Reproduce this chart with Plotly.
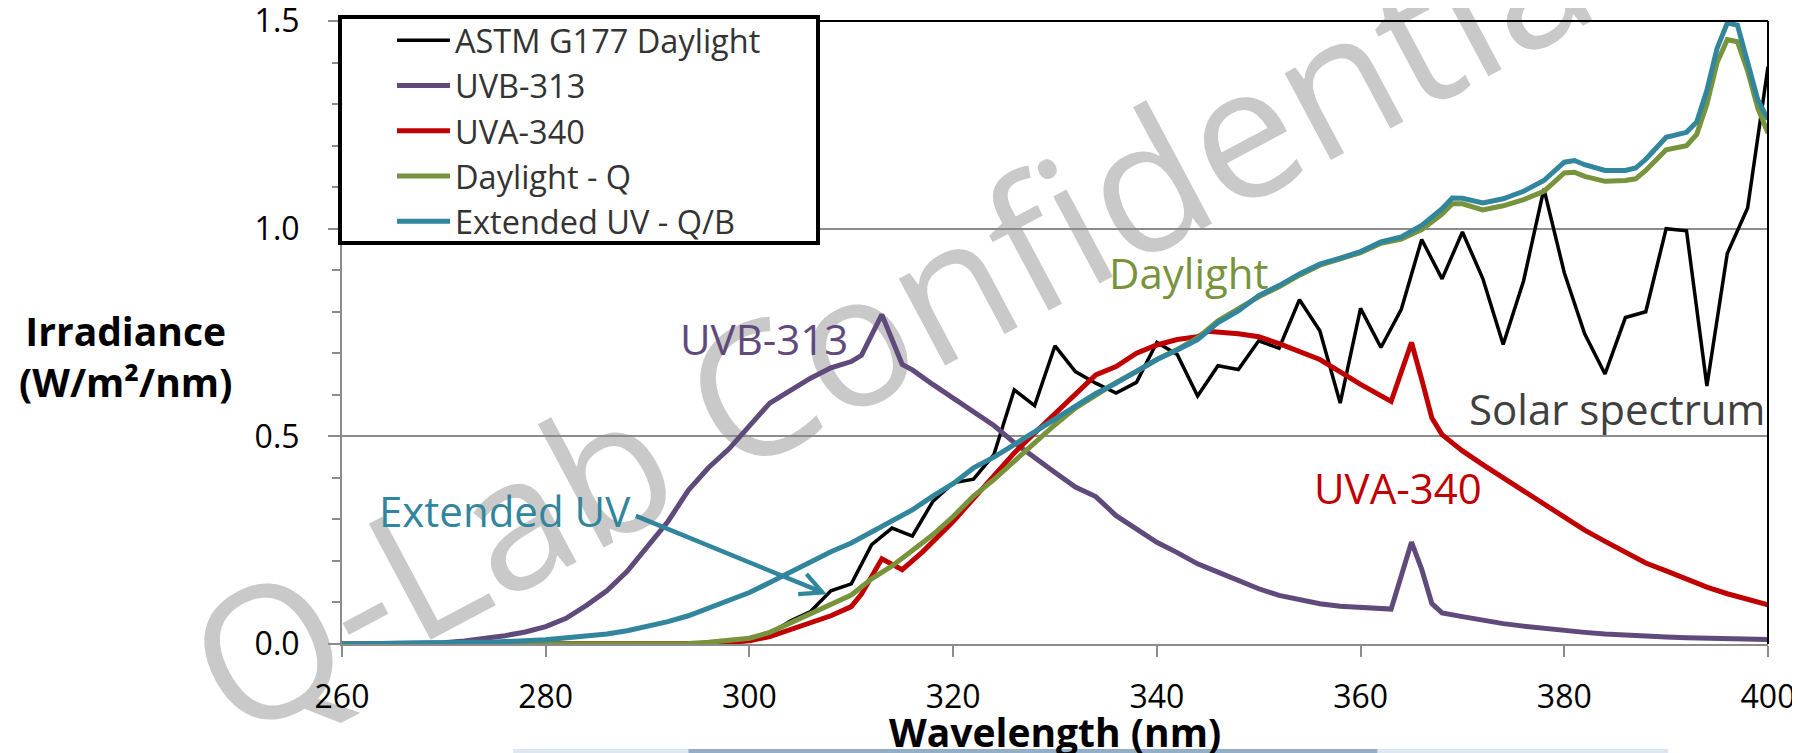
import plotly.graph_objects as go

FONT = "Open Sans, sans-serif"

# ---------------- data ----------------
wl_astm = list(range(280, 402, 2))
astm_g177 = [0, 0, 0, 0, 0, 0, 0, 0, 0, 0.002,
             0.008, 0.025, 0.055, 0.078, 0.128, 0.145, 0.239, 0.279, 0.260, 0.343,
             0.388, 0.397, 0.456, 0.612, 0.574, 0.718, 0.656, 0.628, 0.604, 0.630,
             0.726, 0.697, 0.597, 0.670, 0.661, 0.730, 0.712, 0.829, 0.754, 0.580,
             0.808, 0.714, 0.806, 0.974, 0.879, 0.992, 0.880, 0.721, 0.874, 1.096,
             0.894, 0.747, 0.650, 0.786, 0.800, 1.000, 0.995, 0.621, 0.940, 1.050,
             1.390]

wl_uvb = [260, 262, 264, 266, 268, 270, 272, 274, 276, 278, 280, 282, 284, 286, 288,
          290, 292, 294, 296, 298, 300, 302, 304, 306, 308, 310, 311, 313, 315, 316,
          318, 320, 322, 324, 326, 328, 330, 332, 334, 336, 338, 340, 342, 344, 346,
          348, 350, 352, 354, 356, 358, 360, 363, 365, 366, 367, 368, 370, 372, 374,
          376, 378, 380, 382, 384, 386, 388, 390, 392, 394, 396, 398, 400]
uvb_313 = [0, 0, 0, 0, 0.001, 0.003, 0.007, 0.013, 0.020, 0.029, 0.042, 0.062, 0.093, 0.128, 0.175,
           0.235, 0.295, 0.370, 0.425, 0.470, 0.525, 0.580, 0.610, 0.640, 0.665, 0.680, 0.695, 0.793, 0.673, 0.660,
           0.625, 0.592, 0.560, 0.526, 0.485, 0.448, 0.413, 0.378, 0.355, 0.309, 0.277, 0.245, 0.220, 0.193, 0.173,
           0.152, 0.133, 0.117, 0.106, 0.097, 0.091, 0.088, 0.084, 0.245, 0.180, 0.097, 0.075, 0.066, 0.056, 0.049,
           0.043, 0.037, 0.032, 0.028, 0.024, 0.021, 0.018, 0.017, 0.015, 0.014, 0.013, 0.012, 0.011]

wl_uva = [260, 280, 292, 294, 296, 298, 300, 302, 304, 306, 308, 310, 311, 313, 315,
          317, 318, 320, 322, 324, 326, 328, 330, 332, 334, 336, 338, 340, 342, 344,
          345, 348, 350, 352, 354, 356, 358, 360, 363, 365, 366, 367, 368, 370, 372,
          374, 376, 378, 380, 382, 384, 386, 388, 390, 392, 394, 396, 398, 400]
uva_340 = [0, 0, 0, 0.001, 0.002, 0.004, 0.008, 0.018, 0.035, 0.052, 0.068, 0.090, 0.120, 0.205, 0.179,
           0.222, 0.245, 0.295, 0.350, 0.404, 0.460, 0.508, 0.556, 0.604, 0.648, 0.668, 0.700, 0.720, 0.733, 0.740,
           0.753, 0.747, 0.740, 0.723, 0.705, 0.685, 0.655, 0.625, 0.584, 0.726, 0.637, 0.544, 0.504, 0.465, 0.432,
           0.400, 0.368, 0.335, 0.303, 0.274, 0.247, 0.220, 0.195, 0.176, 0.155, 0.137, 0.121, 0.108, 0.094]

wl_day = [260, 280, 290, 294, 296, 298, 300, 302, 304, 306, 308, 310, 312, 314, 316,
          318, 320, 322, 324, 326, 328, 330, 332, 334, 336, 338, 340, 342, 344, 346,
          348, 350, 352, 354, 356, 358, 360, 362, 364, 366, 368, 369, 370, 372, 374,
          376, 378, 380, 381, 382, 384, 386, 387, 388, 390, 392, 393, 394, 395, 396,
          397, 398, 399, 400]
daylight_q = [0, 0, 0, 0.001, 0.004, 0.008, 0.014, 0.028, 0.050, 0.074, 0.097, 0.118, 0.157, 0.188, 0.225,
              0.263, 0.307, 0.356, 0.396, 0.440, 0.484, 0.528, 0.568, 0.600, 0.630, 0.656, 0.685, 0.709, 0.737, 0.778,
              0.806, 0.836, 0.860, 0.888, 0.912, 0.926, 0.942, 0.965, 0.975, 0.998, 1.035, 1.060, 1.060, 1.045, 1.055,
              1.070, 1.090, 1.134, 1.136, 1.126, 1.114, 1.116, 1.120, 1.140, 1.190, 1.200, 1.227, 1.300, 1.400, 1.455,
              1.450, 1.380, 1.290, 1.230]

wl_ext = [260, 265, 270, 275, 280, 282, 284, 286, 288, 290, 292, 294, 296, 298, 300,
          302, 304, 306, 308, 310, 312, 314, 316, 318, 320, 322, 324, 326, 328, 330,
          332, 334, 336, 338, 340, 342, 344, 346, 348, 350, 352, 354, 356, 358, 360,
          362, 364, 366, 368, 369, 370, 372, 374, 376, 378, 380, 381, 382, 384, 386,
          387, 388, 390, 392, 393, 394, 395, 396, 397, 398, 399, 400]
extended_uv = [0, 0.001, 0.002, 0.005, 0.010, 0.014, 0.018, 0.024, 0.032, 0.042, 0.054, 0.068, 0.086, 0.104, 0.124,
               0.148, 0.173, 0.198, 0.222, 0.243, 0.270, 0.295, 0.323, 0.356, 0.386, 0.424, 0.450, 0.480, 0.510, 0.540,
               0.572, 0.603, 0.628, 0.656, 0.685, 0.708, 0.733, 0.774, 0.802, 0.839, 0.863, 0.891, 0.915, 0.929, 0.945,
               0.968, 0.980, 1.008, 1.048, 1.074, 1.073, 1.062, 1.072, 1.090, 1.116, 1.160, 1.164, 1.154, 1.140, 1.140,
               1.146, 1.167, 1.220, 1.232, 1.257, 1.333, 1.434, 1.495, 1.490, 1.400, 1.310, 1.263]

series_names = ["ASTM G177 Daylight", "UVB-313", "UVA-340", "Daylight - Q", "Extended UV - Q/B"]
series_colors = ["#000000", "#604A7B", "#C00000", "#77933C", "#31859C"]
series_widths = [3.5, 5, 5, 5, 5]

x_ticks = [260, 280, 300, 320, 340, 360, 380, 400]
y_ticks = [0.0, 0.5, 1.0, 1.5]

GRAY = "#8C8C8C"

fig = go.Figure()
data = [(wl_astm, astm_g177), (wl_uvb, uvb_313), (wl_uva, uva_340),
        (wl_day, daylight_q), (wl_ext, extended_uv)]
for (xs, ys), name, col, w in zip(data, series_names, series_colors, series_widths):
    fig.add_trace(go.Scatter(x=xs, y=ys, mode="lines", name=name,
                             line=dict(color=col, width=w)))

# in-plot labels
labels = [
    ("UVB-313", 301.4, 0.736, "#604A7B"),
    ("Extended UV", 276.0, 0.322, "#31859C"),
    ("Daylight", 343.2, 0.894, "#77933C"),
    ("UVA-340", 363.7, 0.377, "#C00000"),
    ("Solar spectrum", 385.2, 0.567, "#404040"),
]
annotations = []
for txt, lx, ly, col in labels:
    annotations.append(dict(x=lx, y=ly, xref="x", yref="y", text=txt, showarrow=False,
                            font=dict(family=FONT, size=42, color=col),
                            xanchor="center", yanchor="middle"))
# arrow from "Extended UV" to the curve
annotations.append(dict(x=307.6, y=0.12, ax=288.7, ay=0.31, xref="x", yref="y",
                        axref="x", ayref="y", text="", showarrow=True,
                        arrowhead=5, arrowsize=0.95, arrowwidth=4.5, arrowcolor="#31859C"))
# y-axis title (horizontal, two lines)
annotations.append(dict(x=-0.152, y=0.463, xref="paper", yref="paper",
                        text="<b>Irradiance</b><br><b>(W/m²/nm)</b>", showarrow=False,
                        font=dict(family=FONT, size=39, color="#000000"),
                        xanchor="center", yanchor="middle", align="center"))
# x-axis title
annotations.append(dict(x=0.5, y=-0.14, xref="paper", yref="paper",
                        text="<b>Wavelength (nm)</b>", showarrow=False,
                        font=dict(family=FONT, size=39, color="#000000"),
                        xanchor="center", yanchor="middle"))

shapes = [
    # watermark drawn between gridlines and traces
    dict(type="line", xref="paper", yref="paper", x0=0.1536, y0=0.2247, x1=0.6487, y1=0.8283,
         layer="between", line=dict(width=1, color="rgba(0,0,0,0)"),
         label=dict(text="Q-Lab Confidential", textposition="middle",
                    xanchor="center", yanchor="middle",
                    font=dict(family=FONT, size=184, color="#C9C9C9"))),
    # black top and right plot borders
    dict(type="line", xref="paper", yref="paper", x0=0, y0=1, x1=1, y1=1,
         line=dict(color="#000000", width=2)),
    dict(type="line", xref="paper", yref="paper", x0=1, y0=0, x1=1, y1=1,
         line=dict(color="#000000", width=2)),
    # legend frame
    dict(type="rect", xref="paper", yref="paper", x0=-0.0014, x1=0.3338, y0=0.6437, y1=1.0064,
         layer="above", line=dict(color="#000000", width=4), fillcolor="white"),
    # faint decorative bar at the bottom of the slide
    dict(type="rect", xref="paper", yref="paper", x0=0.12, x1=0.93, y0=-0.175, y1=-0.1685,
         line=dict(width=0), fillcolor="rgba(140,175,210,0.30)"),
    dict(type="rect", xref="paper", yref="paper", x0=0.243, x1=0.726, y0=-0.175, y1=-0.1685,
         line=dict(width=0), fillcolor="rgba(40,90,140,0.40)"),
]

# page body has an 8px margin: figure is offset by (8, 8) inside the 1800x753 window
fig.update_layout(
    width=1792, height=745,
    margin=dict(l=334, r=32, t=13, b=109, autoexpand=False),
    paper_bgcolor="white", plot_bgcolor="white",
    font=dict(family=FONT, color="#000000"),
    showlegend=True,
    legend=dict(x=0, y=1.0133, xanchor="left", yanchor="top",
                bgcolor="rgba(0,0,0,0)", borderwidth=0,
                font=dict(family=FONT, size=32.5, color="#333333"),
                itemwidth=53, indentation=50, traceorder="normal"),
    annotations=annotations,
    shapes=shapes,
    xaxis=dict(range=[260, 400], tickvals=x_ticks, ticks="outside", ticklen=11,
               tickwidth=2, tickcolor=GRAY, showline=True, linecolor=GRAY, linewidth=2,
               showgrid=False, zeroline=False, ticklabelstandoff=13, automargin=False,
               ticklabeloverflow="allow",
               tickfont=dict(family=FONT, size=32, color="#000000")),
    yaxis=dict(range=[0, 1.5], tickvals=y_ticks, tickformat=".1f", ticks="outside",
               ticklen=12, tickwidth=2, tickcolor=GRAY, showline=True, linecolor=GRAY,
               linewidth=2, showgrid=True, gridcolor=GRAY, gridwidth=2, zeroline=False,
               ticklabelstandoff=22, automargin=False, ticklabeloverflow="allow",
               minor=dict(dtick=0.1, tick0=0, ticks="outside", ticklen=8, tickwidth=2,
                          tickcolor=GRAY, showgrid=False),
               tickfont=dict(family=FONT, size=32, color="#000000")),
    yaxis2=dict(range=[0, 1.5], overlaying="y", side="left", anchor="x", dtick=0.1,
                tick0=0, ticks="inside", ticklen=8, tickwidth=2, tickcolor=GRAY,
                showticklabels=False, showgrid=False, zeroline=False, showline=False,
                automargin=False),
)

fig.write_html("out.html")
